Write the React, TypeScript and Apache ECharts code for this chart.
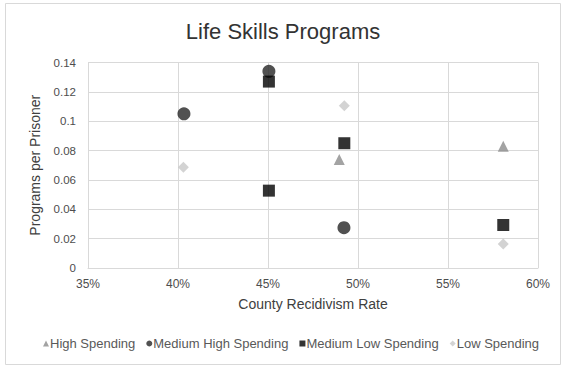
import React, { useEffect, useRef } from "react";
import * as echarts from "echarts";

const seriesNames = ["High Spending", "Medium High Spending", "Medium Low Spending", "Low Spending"];
const highSpending: [number, number][] = [
  [0.4896, 0.074],
  [0.5807, 0.083],
];
const mediumHighSpending: [number, number][] = [
  [0.4033, 0.105],
  [0.4505, 0.134],
  [0.4922, 0.0275],
];
const mediumLowSpending: [number, number][] = [
  [0.4505, 0.127],
  [0.4924, 0.085],
  [0.4505, 0.0527],
  [0.5807, 0.0293],
];
const lowSpending: [number, number][] = [
  [0.403, 0.0686],
  [0.4924, 0.1106],
  [0.5807, 0.0163],
];
const xTicks = [0.35, 0.4, 0.45, 0.5, 0.55, 0.6];
const yTicks = [0, 0.02, 0.04, 0.06, 0.08, 0.1, 0.12, 0.14];

export default function App() {
  const ref = useRef<HTMLDivElement>(null);
  useEffect(() => {
    if (!ref.current) return;
    const chart = echarts.init(ref.current, null, { renderer: "svg" });
    const font = "'Liberation Sans', Arial, sans-serif";
    const mk = (name: string, data: [number, number][], symbol: string, size: number, color: string) => ({
      name,
      type: "scatter",
      data,
      symbol,
      symbolSize: size,
      itemStyle: { color },
    });
    chart.setOption({
      animation: false,
      backgroundColor: "#ffffff",
      textStyle: { fontFamily: font },
      title: {
        text: "Life Skills Programs",
        left: "center",
        top: 15,
        textStyle: { fontSize: 22, fontWeight: "normal", color: "#333333", fontFamily: font },
      },
      graphic: [
        {
          type: "rect",
          shape: { x: 5.5, y: 3.5, width: 555, height: 361 },
          style: { fill: "none", stroke: "#d9d9d9", lineWidth: 1 },
          silent: true,
        },
      ],
      grid: { left: 88, right: 28, top: 62.5, bottom: 102, containLabel: false },
      xAxis: {
        type: "value",
        min: xTicks[0],
        max: xTicks[xTicks.length - 1],
        interval: 0.05,
        name: "County Recidivism Rate",
        nameLocation: "middle",
        nameGap: 29,
        nameTextStyle: { fontSize: 14, color: "#404040", fontFamily: font },
        axisLine: { show: true, lineStyle: { color: "#d9d9d9" } },
        axisTick: { show: false },
        splitLine: { show: true, lineStyle: { color: "#d9d9d9" } },
        axisLabel: {
          fontSize: 12,
          color: "#4d4d4d",
          margin: 10,
          formatter: (v: number) => `${Math.round(v * 100)}%`,
        },
      },
      yAxis: {
        type: "value",
        min: yTicks[0],
        max: yTicks[yTicks.length - 1],
        interval: 0.02,
        name: "Programs per Prisoner",
        nameLocation: "middle",
        nameGap: 46,
        nameTextStyle: { fontSize: 14, color: "#404040", fontFamily: font },
        axisLine: { show: true, lineStyle: { color: "#d9d9d9" } },
        axisTick: { show: false },
        splitLine: { show: true, lineStyle: { color: "#d9d9d9" } },
        axisLabel: {
          fontSize: 11.5,
          color: "#4d4d4d",
          margin: 12,
          formatter: (v: number) => `${parseFloat(v.toFixed(2))}`,
        },
      },
      legend: {
        bottom: 15,
        left: 38,
        itemWidth: 6,
        itemHeight: 6,
        itemGap: 11,
        textStyle: { fontSize: 13, color: "#595959", fontFamily: font, padding: [0, 0, 0, -4] },
        data: [
          { name: seriesNames[0], icon: "triangle" },
          { name: seriesNames[1], icon: "circle" },
          { name: seriesNames[2], icon: "rect" },
          { name: seriesNames[3], icon: "diamond" },
        ],
      },
      series: [
        mk(seriesNames[0], highSpending, "triangle", 11, "#8c8c8c"),
        mk(seriesNames[1], mediumHighSpending, "circle", 13, "#262626"),
        mk(seriesNames[2], mediumLowSpending, "rect", 12, "#000000"),
        mk(seriesNames[3], lowSpending, "diamond", 11, "#c8c8c8"),
      ],
    });
    return () => chart.dispose();
  }, []);
  return <div ref={ref} style={{ position: "absolute", left: 0, top: 0, width: 566, height: 370 }} />;
}
